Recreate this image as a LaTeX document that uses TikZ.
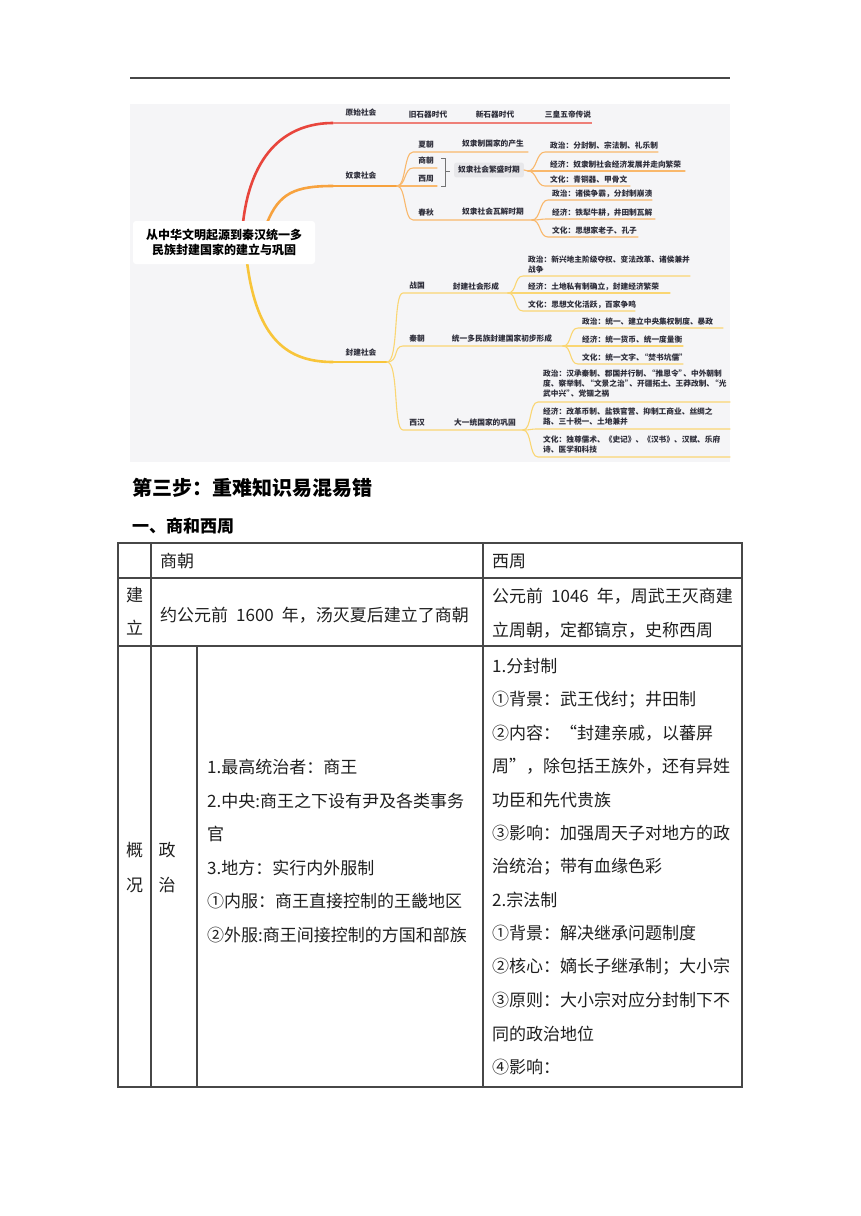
\documentclass[tikz,border=0pt]{standalone}
\usepackage{fontspec}
\usepackage{xcolor}
\usepackage{tikz}
\usetikzlibrary{calc}
\newfontfamily\cjk{Noto Sans CJK SC}
\newcommand\aspa[1]{\kern-0.4em“#1”\kern-0.4em}
\definecolor{vermelho}{HTML}{E8453C}
\definecolor{rosa}{HTML}{EE7F78}
\definecolor{laranja}{HTML}{F7A23E}
\definecolor{laranjaclaro}{HTML}{F9B86C}
\definecolor{amarelo}{HTML}{F8C53A}
\definecolor{amareloclaro}{HTML}{FAD673}
\definecolor{fundo}{HTML}{F5F5F7}
\definecolor{caixa}{HTML}{E7E7EA}
\definecolor{texto}{HTML}{2E2E3A}
\definecolor{grade}{HTML}{474747}

\begin{document}
\begin{tikzpicture}[x=1pt, y=-1pt,
  mm/.style={font=\cjk\bfseries\fontsize{7.7}{10}\selectfont, text=texto, inner sep=0pt, align=left},
  tb/.style={font=\cjk\fontsize{17}{20}\selectfont, text=black!88, inner sep=0pt, anchor=west},
  ramo/.style={line width=1.1pt, line cap=round},
  tronco/.style={line width=2.6pt, line cap=round}]
  \useasboundingbox[fill=white] (0,0) rectangle (860,1216);
  % linha do topo
  \draw[grade, line width=1.4pt] (130,78) -- (730,78);

  % mapa mental
  \fill[fundo] (130,104) rectangle (730,462);

  % ramo vermelho
  \coordinate (ys0) at (243,223); \coordinate (ys1) at (333,123); \coordinate (ys2) at (592,123);
  \draw[tronco, vermelho] (ys0) .. controls +(8,-72) and +(-45,0) .. (ys1);
  \draw[rosa, line width=1.3pt] (ys1) -- (ys2);
  \node[mm] (ys) at (361,113) {原始社会};
  \foreach \n/\t/\x in {jsq/旧石器时代/428, xsq/新石器时代/495, shwd/三皇五帝传说/568}
    \node[mm] (\n) at (\x,115) {\t};

  % ramo laranja
  \coordinate (ls0) at (267,223); \coordinate (ls1) at (333,186); \coordinate (ls) at (397,186);
  \draw[tronco, laranja] (ls0) .. controls +(12,-30) and +(-38,0) .. (ls1);
  \draw[laranja, line width=1.4pt] (ls1) -- (ls);
  \node[mm] (nl) at (361,176) {奴隶社会};
  \foreach \n/\t/\y/\xe in {xia/夏朝/152/528, shang/商朝/168/437, zhou/西周/186/437, chun/春秋/220/532}{
    \coordinate (\n0) at (413,\y); \coordinate (\n1) at (\xe,\y);
    \draw[ramo, laranjaclaro] (ls) .. controls +(9,0) and +(-9,0) .. (\n0) -- (\n1);
    \node[mm] (\n) at (426,\y-7) {\t};
  }
  \node[mm] (chansheng) at (493,144) {奴隶制国家的产生};
  \node[mm] (wajie) at (493,212) {奴隶社会瓦解时期};
  \draw[black!55, line width=0.8pt] (441,158) -- (445,158) -- (445,186) -- (441,186) (445,171) -- (450,171);
  \node[mm, fill=caixa, rounded corners=2pt, inner xsep=4pt, inner ysep=3.6pt] (fansheng) at (489,170) {奴隶社会繁盛时期};
  \coordinate (j1) at (528,171);
  \draw[ramo, laranjaclaro] (fansheng.east) -- (j1);
  \foreach \n/\t/\y/\xe in {zz1/政治：分封制、宗法制、礼乐制/152/658, jj1/经济：奴隶制社会经济发展并走向繁荣/171/685, wh1/文化：青铜器、甲骨文/186/630}{
    \coordinate (\n0) at (545,\y); \coordinate (\n1) at (\xe,\y);
    \draw[ramo, laranjaclaro] (j1) .. controls +(9,0) and +(-9,0) .. (\n0) -- (\n1);
    \node[mm, anchor=west] (\n) at (550,\y-6) {\t};
  }
  \foreach \n/\t/\y/\xe in {zz2/政治：诸侯争霸，分封制崩溃/200/652, jj2/经济：铁犁牛耕，井田制瓦解/219/655, wh2/文化：思想家老子、孔子/237/638}{
    \coordinate (\n0) at (548,\y); \coordinate (\n1) at (\xe,\y);
    \draw[ramo, laranjaclaro] (chun1) .. controls +(9,0) and +(-9,0) .. (\n0) -- (\n1);
    \node[mm, anchor=west] (\n) at (552,\y-6) {\t};
  }

  % ramo amarelo
  \coordinate (fs0) at (247,262); \coordinate (fs1) at (333,362); \coordinate (fs) at (387,362);
  \draw[tronco, amarelo] (fs0) .. controls +(10,78) and +(-45,0) .. (fs1);
  \draw[amarelo, line width=1.4pt] (fs1) -- (fs);
  \node[mm] (fj) at (361,353) {封建社会};
  \foreach \n/\t/\y/\xe in {zg/战国/293/508, qc/秦朝/346/563, xh/西汉/430/523}{
    \coordinate (\n0) at (403,\y); \coordinate (\n1) at (\xe,\y);
    \draw[ramo, amareloclaro] (fs) .. controls +(12,0) and +(-10,0) .. (\n0) -- (\n1);
    \node[mm] (\n) at (417,\y-7) {\t};
  }
  \node[mm] (xingcheng) at (476,287) {封建社会形成};
  \node[mm] (chubu) at (502,339) {统一多民族封建国家初步形成};
  \node[mm] (gonggu) at (485,423) {大一统国家的巩固};
  % 战国
  \foreach \n/\t/\y/\ty/\xe in {zz3/{政治：新兴地主阶级夺权、变法改革、诸侯兼并\\战争}/276/265/690, jj3/经济：土地私有制确立，封建经济繁荣/293/287/670, wh3/文化：思想文化活跃，百家争鸣/311/305/635}{
    \coordinate (\n0) at (523,\y); \coordinate (\n1) at (\xe,\y);
    \draw[ramo, amareloclaro] (zg1) .. controls +(9,0) and +(-9,0) .. (\n0) -- (\n1);
    \node[mm, anchor=west] (\n) at (528,\ty) {\t};
  }
  % 秦朝
  \foreach \n/\t/\y/\xe in {zz4/政治：统一、建立中央集权制度、暴政/328/723, jj4/经济：统一货币、统一度量衡/346/683, wh4/文化：统一文字、\aspa{焚书坑儒}/364/683}{
    \coordinate (\n0) at (578,\y); \coordinate (\n1) at (\xe,\y);
    \draw[ramo, amareloclaro] (qc1) .. controls +(9,0) and +(-9,0) .. (\n0) -- (\n1);
    \node[mm, anchor=west] (\n) at (582,\y-6) {\t};
  }
  % 西汉
  \foreach \n/\t/\y/\ty in {zz5/{政治：汉承秦制、郡国并行制、\aspa{推恩令}、中外朝制\\度、察举制、\aspa{文景之治}、开疆拓土、王莽改制、\kern-0.4em“光\\武中兴”\kern-0.4em、党锢之祸}/402/384, jj5/{经济：改革币制、盐铁官营、抑制工商业、丝绸之\\路、三十税一、土地兼并}/429/416.5, wh5/{文化：独尊儒术、《史记》、《汉书》、汉赋、乐府\\诗、医学和科技}/457/445}{
    \coordinate (\n0) at (538,\y); \coordinate (\n1) at (730,\y);
    \draw[ramo, amareloclaro] (xh1) .. controls +(9,0) and +(-9,0) .. (\n0) -- (\n1);
    \node[mm, anchor=west] (\n) at (543,\ty) {\t};
  }

  % no central
  \node[fill=white, rounded corners=3pt, minimum width=182pt, minimum height=43pt, align=center,
        font=\cjk\bfseries\fontsize{12}{15}\selectfont, text=black] (raiz) at (224,242.5)
        {从中华文明起源到秦汉统一多\\民族封建国家的建立与巩固};

  % titulos
  \node[font=\cjk\bfseries\fontsize{20}{24}\selectfont, inner sep=0pt, anchor=west] (passo) at (132,488) {第三步：重难知识易混易错};
  \node[font=\cjk\bfseries\fontsize{17}{20}\selectfont, inner sep=0pt, anchor=west] (secao) at (132,526) {一、商和西周};

  % tabela
  \draw[grade, line width=1.2pt] (118,543) rectangle (742,1087);
  \draw[grade, line width=1.2pt] (118,578) -- (742,578) (118,646) -- (742,646)
    (151,543) -- (151,1087) (483,543) -- (483,1087) (197,646) -- (197,1087);
  \node[tb] (shang) at (160,561) {商朝};
  \node[tb] (xizhou) at (492,561) {西周};
  \node[tb, anchor=center] (jian) at (134.5,595) {建};
  \node[tb, anchor=center] (li) at (134.5,628) {立};
  \node[tb] (shangjl) at (160,615) {约公元前\hspace{8pt}1600\hspace{8pt}年，汤灭夏后建立了商朝};
  \node[tb] (zhoujl1) at (492,596) {公元前\hspace{8pt}1046\hspace{8pt}年，周武王灭商建};
  \node[tb] (zhoujl2) at (492,630) {立周朝，定都镐京，史称西周};
  \node[tb, anchor=center] (gai) at (134.5,850) {概};
  \node[tb, anchor=center] (kuang) at (134.5,885) {况};
  \node[tb, anchor=center] (zheng) at (167,850) {政};
  \node[tb, anchor=center] (zhi) at (167,885) {治};
  \foreach \t [count=\i] in {1.最高统治者：商王, 2.中央:商王之下设有尹及各类事务, 官, 3.地方：实行内外服制, ①内服：商王直接控制的王畿地区, ②外服:商王间接控制的方国和部族}
    \node[tb] (s\i) at (207,{767+33.6*(\i-1)}) {\t};
  \foreach \t [count=\i] in {1.分封制, ①背景：武王伐纣；井田制, ②内容：“封建亲戚，以蕃屏, 周”，除包括王族外，还有异姓, 功臣和先代贵族, ③影响：加强周天子对地方的政, 治统治；带有血缘色彩, 2.宗法制, ①背景：解决继承问题制度, ②核心：嫡长子继承制；大小宗, ③原则：大小宗对应分封制下不, 同的政治地位, ④影响：}
    \node[tb] (z\i) at (492,{666+33.42*(\i-1)}) {\t};
\end{tikzpicture}
\end{document}
